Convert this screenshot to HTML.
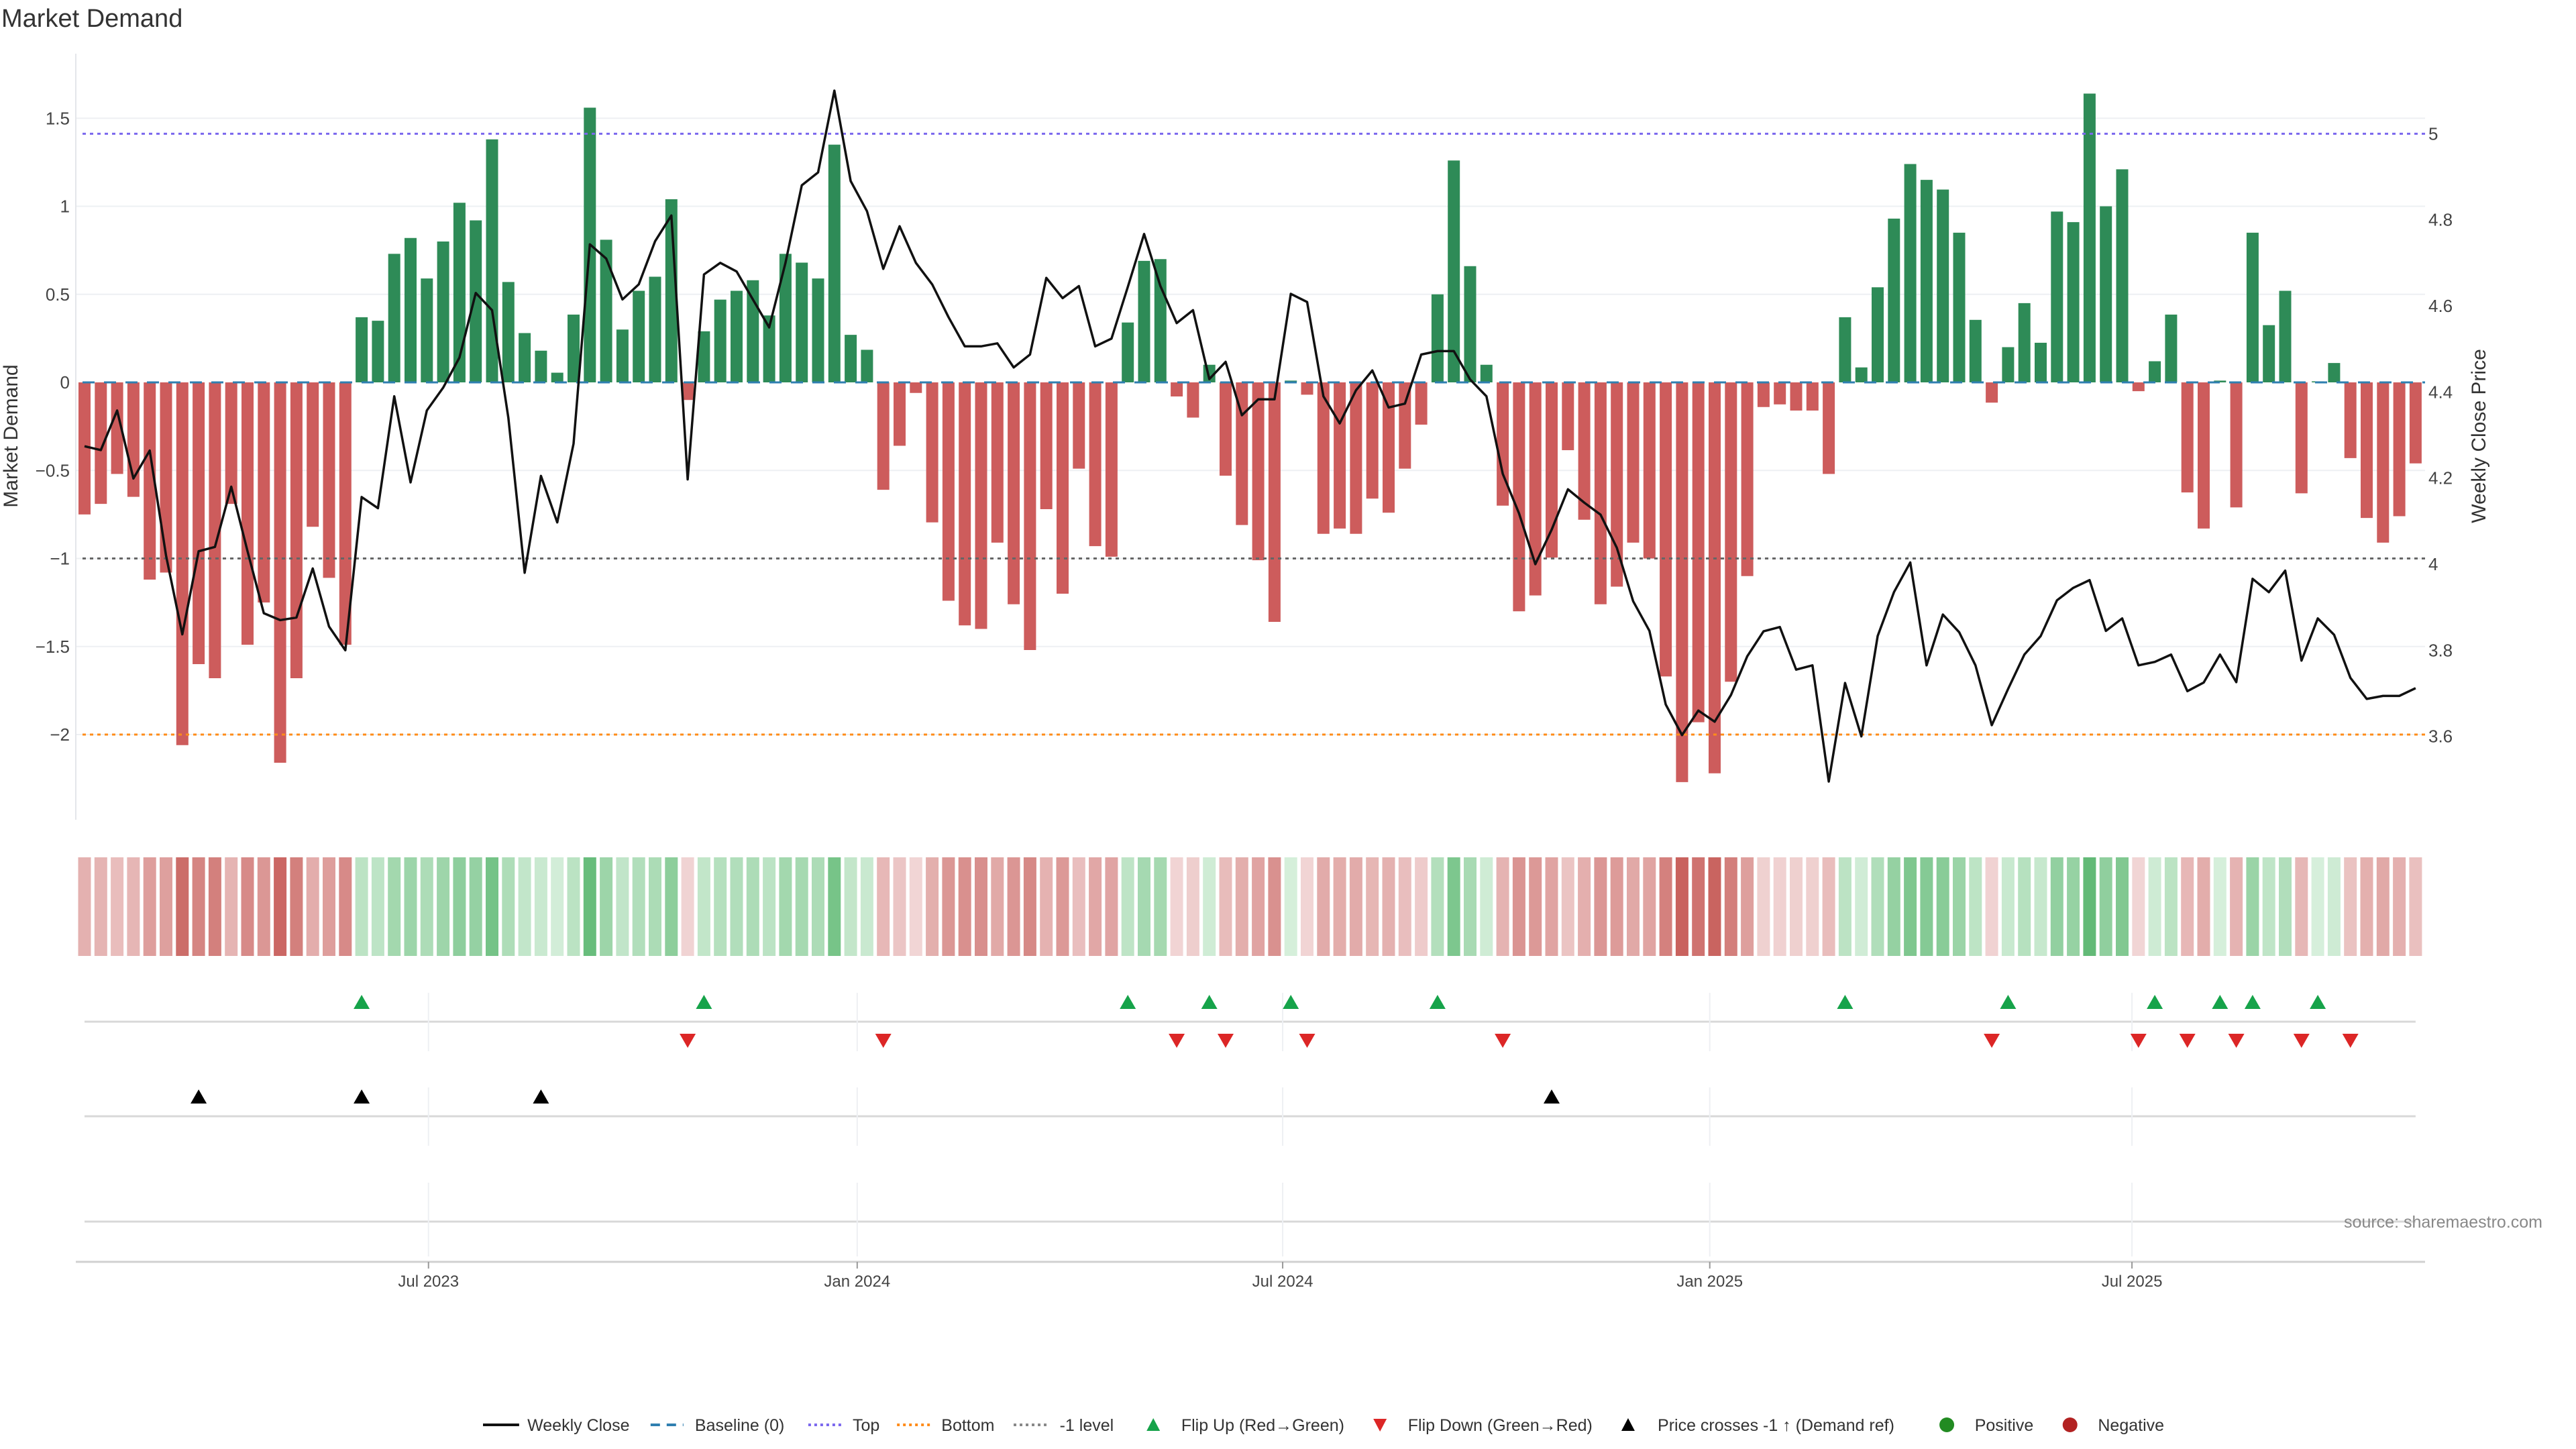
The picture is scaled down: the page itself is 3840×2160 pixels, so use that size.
<!DOCTYPE html>
<html><head><meta charset="utf-8"><style>
html,body{margin:0;padding:0;background:#fff;}
svg{display:block;font-family:"Liberation Sans","DejaVu Sans",sans-serif;}
</style></head><body>
<svg id="chart" width="3840" height="2160" viewBox="0 0 3840 2160" xmlns="http://www.w3.org/2000/svg">
<text x="2" y="40" font-size="38" fill="#333">Market Demand</text>
<g id="grid"></g><g id="bars"></g><g id="refs"></g><g id="line"></g><g id="axes"></g><g id="heat"></g><g id="marks"></g><g id="legend"></g>
<text transform="translate(26,650) rotate(-90)" text-anchor="middle" font-size="30" fill="#333">Market Demand</text>
<text transform="translate(3705,650) rotate(-90)" text-anchor="middle" font-size="30" fill="#333">Weekly Close Price</text>
<text x="3790" y="1830" text-anchor="end" font-size="25" fill="#888">source: sharemaestro.com</text>
</svg>
<script>
const demand = [
-0.75,-0.69,-0.52,-0.65,-1.12,-1.08,-2.06,-1.60,-1.68,-0.69,
-1.49,-1.25,-2.16,-1.68,-0.82,-1.11,-1.49,0.37,0.35,0.73,
0.82,0.59,0.80,1.02,0.92,1.38,0.57,0.28,0.18,0.055,
0.385,1.56,0.81,0.30,0.52,0.60,1.04,-0.10,0.29,0.47,
0.52,0.58,0.38,0.73,0.68,0.59,1.35,0.27,0.185,-0.61,
-0.36,-0.06,-0.795,-1.24,-1.38,-1.40,-0.91,-1.26,-1.52,-0.72,
-1.20,-0.49,-0.93,-0.99,0.34,0.69,0.70,-0.08,-0.20,0.10,
-0.53,-0.81,-1.01,-1.36,0.01,-0.07,-0.86,-0.83,-0.86,-0.66,
-0.74,-0.49,-0.24,0.50,1.26,0.66,0.10,-0.70,-1.30,-1.21,
-0.995,-0.385,-0.78,-1.26,-1.16,-0.91,-1.00,-1.67,-2.27,-1.93,
-2.22,-1.70,-1.10,-0.14,-0.125,-0.16,-0.16,-0.52,0.37,0.085,
0.54,0.93,1.24,1.15,1.095,0.85,0.355,-0.115,0.20,0.45,
0.225,0.97,0.91,1.64,1.00,1.21,-0.05,0.12,0.385,-0.625,
-0.83,0.01,-0.71,0.85,0.325,0.52,-0.63,0.006,0.11,-0.43,
-0.77,-0.91,-0.76,-0.46];
const price = [
4.274,4.265,4.357,4.199,4.264,4.02,3.837,4.03,4.04,4.18,
4.03,3.886,3.87,3.876,3.99,3.855,3.80,4.156,4.13,4.39,
4.19,4.357,4.41,4.48,4.63,4.59,4.34,3.98,4.205,4.097,
4.28,4.743,4.71,4.615,4.65,4.75,4.81,4.197,4.673,4.70,
4.68,4.615,4.55,4.70,4.88,4.91,5.10,4.89,4.82,4.686,
4.785,4.70,4.65,4.574,4.506,4.506,4.513,4.457,4.487,4.665,
4.618,4.646,4.506,4.524,4.644,4.767,4.646,4.56,4.59,4.43,
4.47,4.346,4.383,4.383,4.628,4.609,4.39,4.327,4.404,4.45,
4.364,4.373,4.487,4.495,4.495,4.429,4.39,4.21,4.118,4.0,
4.08,4.174,4.143,4.115,4.038,3.914,3.845,3.674,3.603,3.66,
3.634,3.696,3.786,3.844,3.854,3.755,3.765,3.495,3.724,3.60,
3.833,3.935,4.004,3.765,3.883,3.842,3.765,3.626,3.71,3.79,
3.833,3.916,3.945,3.963,3.845,3.874,3.765,3.773,3.79,3.705,
3.725,3.79,3.726,3.966,3.935,3.985,3.776,3.874,3.836,3.736,
3.687,3.694,3.694,3.712];
const flipUp = [17,38,64,69,74,83,108,118,127,131,133,137];
const flipDown = [37,49,67,70,75,87,117,126,129,132,136,139];
const priceCross = [7,17,28,90];
const dateTickLabels = ["Jul 2023","Jan 2024","Jul 2024","Jan 2025","Jul 2025"];
const dateTickIdx = [21.1,47.4,73.5,99.7,125.6];
const yTicks = [-2,-1.5,-1,-0.5,0,0.5,1,1.5];
const y2Ticks = [3.6,3.8,4,4.2,4.4,4.6,4.8,5];
const topLevel = 1.412, bottomLevel = -2.0, minusOneLevel = -1.0;

const NS="http://www.w3.org/2000/svg";
function mk(tag, attrs, parent, text){const e=document.createElementNS(NS,tag);for(const k in attrs)e.setAttribute(k,attrs[k]);if(text!==undefined)e.textContent=text;parent.appendChild(e);return e;}
const X0=126, DX=24.3, L=113, R=3615;
const xs = i => X0 + i*DX;
const ys = v => 570 - v*262.5;
const yp = p => 199.3 + (5-p)*641.7;
const fmt = v => (v<0?"\u2212":"")+String(Math.abs(v));

const grid=document.getElementById('grid');
yTicks.forEach(t=>{ if(t===0) return;
  const l=mk('line',{x1:L,x2:R,y1:ys(t),y2:ys(t),stroke:'#eef0f3','stroke-width':2},grid);
  
  
});
const axes=document.getElementById('axes');
const ax=mk('line',{x1:L,x2:L,y1:80,y2:1222,stroke:'#e4e6ea','stroke-width':2},axes);


yTicks.forEach(t=>{
  const tx=mk('text',{x:104,y:ys(t)+9,'text-anchor':'end','font-size':26,fill:'#444'},axes,fmt(t));
  
  
});
y2Ticks.forEach(t=>{
  const tx=mk('text',{x:3620,y:yp(t)+9,'font-size':26,fill:'#444'},axes,String(t));
  
  
});

const bars=document.getElementById('bars');
demand.forEach((v,i)=>{
  const y=Math.min(ys(0),ys(v)), h=Math.max(1.5,Math.abs(ys(v)-ys(0)));
  const b=mk('rect',{x:xs(i)-9,y:y,width:18,height:h,fill:v>=0?'#2e8b57':'#cd5c5c'},bars);
  
  
});

const refs=document.getElementById('refs');
function hline(v,color,dash,name){
  const l=mk('line',{x1:L+10,x2:R,y1:ys(v),y2:ys(v),stroke:color,'stroke-width':3,'stroke-dasharray':dash},refs);
  
  
}
hline(0,'#2f7fb0','18 14','baseline-line');
hline(topLevel,'#7b68ee','5 6','top-line');
hline(bottomLevel,'#ff8c1a','5 6','bottom-line');
hline(minusOneLevel,'#666','5 6','minus-one-line');

const lineG=document.getElementById('line');
const pl=mk('polyline',{points:price.map((p,i)=>xs(i)+','+yp(p)).join(' '),fill:'none',stroke:'#111','stroke-width':3.5,'stroke-linejoin':'round'},lineG);



const heat=document.getElementById('heat');
function mix(a,b,t){return 'rgb('+a.map((c,k)=>Math.round(c+(b[k]-c)*t)).join(',')+')';}
demand.forEach((v,i)=>{
  const c = v>=0 ? mix([214,239,219],[98,186,118],Math.min(1,v/1.65)) : mix([242,216,216],[200,96,92],Math.min(1,-v/2.3));
  const r=mk('rect',{x:xs(i)-9.5,y:1278,width:19,height:147,fill:c},heat);
  
  
});

const marks=document.getElementById('marks');
[[1523,1480,1567],[1664,1621,1708],[1821,1763,1873]].forEach(p=>{
  const l=mk('line',{x1:X0,x2:xs(143),y1:p[0],y2:p[0],stroke:'#d8d8d8','stroke-width':3},marks);
  
  
  dateTickIdx.forEach(d=>{
    const g=mk('line',{x1:xs(d),x2:xs(d),y1:p[1],y2:p[2],stroke:'#eef0f3','stroke-width':2},marks);
    
    
  });
});
function tri(cx,cy,up,color,name){
  const pts = up ? [[cx-12,cy+10],[cx+12,cy+10],[cx,cy-11]] : [[cx-12,cy-10],[cx+12,cy-10],[cx,cy+11]];
  const t=mk('polygon',{points:pts.map(q=>q.join(',')).join(' '),fill:color},marks);
  
  
}
flipUp.forEach(i=>tri(xs(i),1494,true,'#16a34a','flip-up-marker'));
flipDown.forEach(i=>tri(xs(i),1551,false,'#dc2626','flip-down-marker'));
priceCross.forEach(i=>tri(xs(i),1635,true,'#000','price-cross-marker'));

const xa=mk('line',{x1:L,x2:R,y1:1881,y2:1881,stroke:'#d0d0d0','stroke-width':3},marks);


dateTickLabels.forEach((lab,k)=>{
  const x=xs(dateTickIdx[k]);
  const tk=mk('line',{x1:x,x2:x,y1:1881,y2:1891,stroke:'#999','stroke-width':2},marks);
  
  
  const tx=mk('text',{x:x,y:1918,'text-anchor':'middle','font-size':24,fill:'#444'},marks,lab);
  
  
});

const leg=document.getElementById('legend');
const LY=2124, S=2.449;
function legText(dx,s){const t=mk('text',{x:dx*S,y:LY+9,'font-size':25,fill:'#333'},leg,s);}
function legLine(x1,x2,color,dash,w,name){const l=mk('line',{x1:x1*S,x2:x2*S,y1:LY,y2:LY,stroke:color,'stroke-width':w,'stroke-dasharray':dash},leg);}
legLine(294,316,'#111','none',4,'legend-weekly-close');legText(321,'Weekly Close');
legLine(396,416,'#2f7fb0','14 10',4,'legend-baseline');legText(423,'Baseline (0)');
legLine(492,512,'#7b68ee','4 5',4,'legend-top');legText(519,'Top');
legLine(546,566,'#ff8c1a','4 5',4,'legend-bottom');legText(573,'Bottom');
legLine(617,637,'#888','4 5',4,'legend-minus-one');legText(645,'-1 level');
function legTri(dx,up,color,name){const cx=dx*S,cy=LY;const pts=up?[[cx-10,cy+9],[cx+10,cy+9],[cx,cy-10]]:[[cx-10,cy-9],[cx+10,cy-9],[cx,cy+10]];const t=mk('polygon',{points:pts.map(q=>q.join(',')).join(' '),fill:color},leg);}
legTri(702,true,'#16a34a','legend-flip-up');legText(719,'Flip Up (Red\u2192Green)');
legTri(840,false,'#dc2626','legend-flip-down');legText(857,'Flip Down (Green\u2192Red)');
legTri(991,true,'#000','legend-price-cross');legText(1009,'Price crosses -1 \u2191 (Demand ref)');
function legDot(dx,color,name){const c=mk('circle',{cx:dx*S,cy:LY,r:11,fill:color},leg);}
legDot(1185,'#228b22','legend-positive');legText(1202,'Positive');
legDot(1260,'#b22222','legend-negative');legText(1277,'Negative');
</script>
</body></html>
